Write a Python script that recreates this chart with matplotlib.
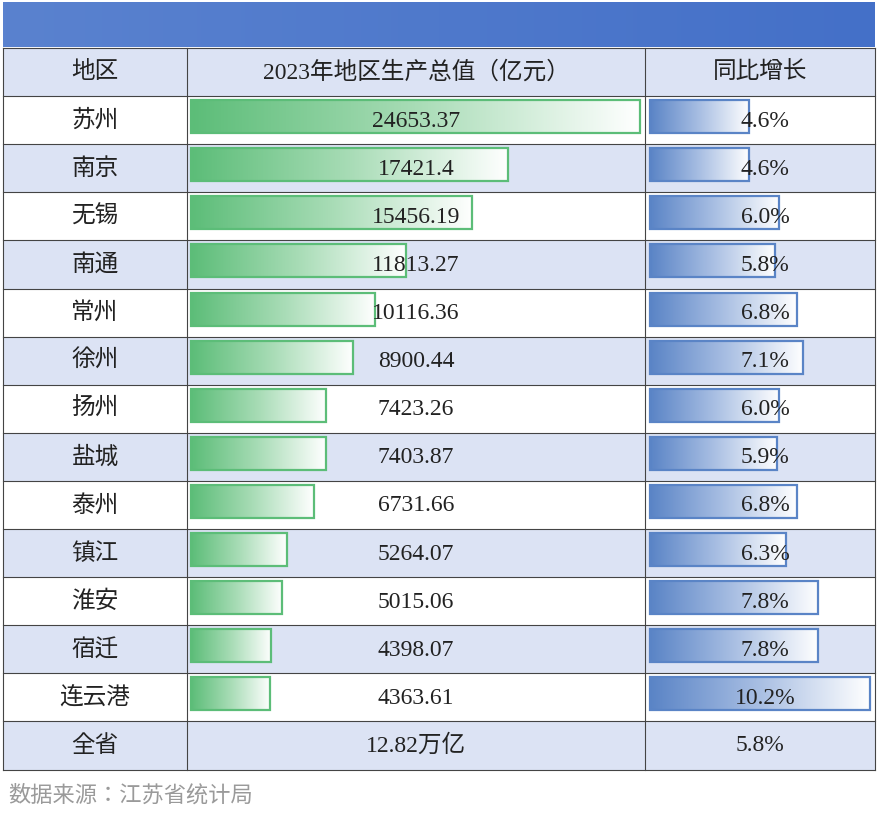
import matplotlib
matplotlib.use("Agg")
import matplotlib.pyplot as plt
from matplotlib import font_manager as fm
from matplotlib.patches import Rectangle
from matplotlib.colors import LinearSegmentedColormap
import numpy as np

cities = ["苏州", "南京", "无锡", "南通", "常州", "徐州", "扬州", "盐城",
          "泰州", "镇江", "淮安", "宿迁", "连云港"]
gdp = [24653.37, 17421.4, 15456.19, 11813.27, 10116.36, 8900.44, 7423.26,
       7403.87, 6731.66, 5264.07, 5015.06, 4398.07, 4363.61]
growth = [4.6, 4.6, 6.0, 5.8, 6.8, 7.1, 6.0, 5.9, 6.8, 6.3, 7.8, 7.8, 10.2]
headers = ["地区", "2023年地区生产总值（亿元）", "同比增长"]
total_row = ["全省", "12.82万亿", "5.8%"]
source = "数据来源：江苏省统计局"

# find a CJK family name that matplotlib actually knows
cjk = "Noto Sans CJK SC"
names = sorted({f.name for f in fm.fontManager.ttflist})
cands = [n for n in names if "CJK" in n]
if cjk not in names and cands:
    sc = [n for n in cands if "SC" in n]
    cjk = sc[0] if sc else cands[0]
if not cands:
    import glob
    for p in glob.glob("/usr/share/fonts/**/*CJK*", recursive=True):
        fm.fontManager.addfont(p)
    names = sorted({f.name for f in fm.fontManager.ttflist})
    cands = [n for n in names if "CJK" in n]
    if cands:
        sc = [n for n in cands if "SC" in n]
        cjk = sc[0] if sc else cands[0]
serif = "Liberation Serif"

W, H = 878, 818
fig = plt.figure(figsize=(W / 100, H / 100), dpi=100)
ax = fig.add_axes([0, 0, 1, 1])
ax.set_xlim(0, W)
ax.set_ylim(H, 0)
ax.axis("off")

g = np.linspace(0, 1, 256)[None, :]
ban = LinearSegmentedColormap.from_list("ban", ["#5a82cf", "#4470c8"])
ax.imshow(g, extent=[3, 875, 47, 2], cmap=ban, aspect="auto", zorder=1)

cols = [3, 187, 645, 875]
row_h = 48.1
top = 48
light = "#dce3f4"
n_rows = len(cities) + 2
for i in range(n_rows):
    y0 = top + i * row_h
    fc = light if i % 2 == 0 else "white"
    ax.add_patch(Rectangle((cols[0], y0), cols[-1] - cols[0], row_h,
                           facecolor=fc, edgecolor="none", zorder=0))
    ax.plot([cols[0], cols[-1]], [y0, y0], color="#444444", lw=0.8, zorder=3)
ax.plot([cols[0], cols[-1]], [top + n_rows * row_h] * 2, color="#444444", lw=0.8, zorder=3)
for x in cols:
    ax.plot([x, x], [top, top + n_rows * row_h], color="#444444", lw=0.8, zorder=3)

def cy(i):
    return top + i * row_h + row_h / 2

for j, h in enumerate(headers):
    ax.text((cols[j] + cols[j + 1]) / 2, cy(0), h, fontfamily=[serif, cjk], fontsize=17,
            ha="center", va="center", color="#222222", zorder=5)

green = LinearSegmentedColormap.from_list("gr", ["#5cbd78", "#a8dcb6", "#ffffff"])
blue = LinearSegmentedColormap.from_list("bl", ["#5a84c6", "#a9bfe3", "#ffffff"])

def grad_bar(x0, y0, w, h, cmap, edge):
    im = ax.imshow(g, extent=[x0, x0 + w, y0 + h, y0], cmap=cmap,
                   aspect="auto", zorder=2)
    r = Rectangle((x0, y0), w, h, facecolor="none", edgecolor=edge, lw=1.6, zorder=2.5)
    ax.add_patch(r)
    im.set_clip_path(r)

gmax = max(gdp)
rmax = max(growth)
for i, (c, v, r) in enumerate(zip(cities, gdp, growth)):
    y = top + (i + 1) * row_h
    ax.text((cols[0] + cols[1]) / 2, cy(i + 1), c, fontfamily=cjk, fontsize=17,
            ha="center", va="center", color="#222222", zorder=5)
    grad_bar(191, y + 4, v / gmax * 449, 33, green, "#5cbd78")
    grad_bar(650, y + 4, r / rmax * 220, 33, blue, "#5a84c6")
    ax.text((cols[1] + cols[2]) / 2, cy(i + 1) + 1, str(v), fontfamily=serif,
            fontsize=17, ha="center", va="center", color="#222222", zorder=5)
    ax.text((cols[2] + cols[3]) / 2 + 5, cy(i + 1) + 1, f"{r:.1f}%", fontfamily=serif,
            fontsize=17, ha="center", va="center", color="#222222", zorder=5)

last = len(cities) + 1
ax.text((cols[0] + cols[1]) / 2, cy(last), total_row[0], fontfamily=cjk, fontsize=17,
        ha="center", va="center", color="#222222", zorder=5)
ax.text((cols[1] + cols[2]) / 2, cy(last), total_row[1], fontfamily=[serif, cjk],
        fontsize=17, ha="center", va="center", color="#222222", zorder=5)
ax.text((cols[2] + cols[3]) / 2, cy(last), total_row[2], fontfamily=serif, fontsize=17,
        ha="center", va="center", color="#222222", zorder=5)

ax.text(8, 795, source, fontfamily=cjk, fontsize=16, ha="left", va="center",
        color="#9a9a9a", zorder=5)

fig.savefig("out.png", dpi=100)
